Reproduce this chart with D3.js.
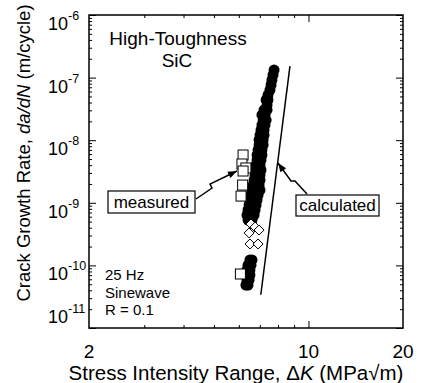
<!DOCTYPE html>
<html>
<meta charset="utf-8">
<head>
  <title>Crack growth rate vs stress intensity range</title>
</head>

<style>
body { margin: 0; background: #fff; }
text {
  font-family: "Liberation Sans", Arial, Helvetica, sans-serif;
  fill: #000;
}
.tick line { stroke: #000; stroke-width: 1; }
</style>

<body>
  <svg width="422" height="383"></svg>

  <script src="https://cdnjs.cloudflare.com/ajax/libs/d3/7.8.5/d3.min.js"></script>
  <script>
// [deltaK (MPa sqrt m), da/dN (m/cycle)]
var filledPoints = [
  [7.77,1.32e-7],[7.71,1.10e-7],[7.65,9.16e-8],[7.60,7.62e-8],[7.54,6.34e-8],[7.43,5.27e-8],
  [7.43,4.39e-8],[7.33,4.39e-8],[7.38,3.65e-8],
  [7.38,3.04e-8],[7.22,3.04e-8],
  [7.27,2.53e-8],[7.11,2.53e-8],
  [7.33,2.10e-8],[7.17,2.10e-8],
  [7.27,1.75e-8],[7.11,1.75e-8],
  [7.22,1.46e-8],[7.06,1.46e-8],
  [7.22,1.21e-8],[7.01,1.21e-8],
  [7.17,1.01e-8],[6.96,1.01e-8],
  [7.17,8.38e-9],[6.96,8.38e-9],
  [7.11,6.97e-9],[6.91,6.97e-9],
  [7.11,5.80e-9],[6.86,5.80e-9],
  [7.06,4.83e-9],[6.86,4.83e-9],
  [7.01,4.02e-9],[6.81,4.02e-9],
  [7.06,3.34e-9],[6.81,3.34e-9],
  [7.01,2.78e-9],[6.76,2.78e-9],
  [7.01,2.31e-9],[6.71,2.31e-9],
  [6.96,1.92e-9],[6.66,1.92e-9],
  [7.01,1.60e-9],[6.81,1.60e-9],[6.61,1.60e-9],
  [6.91,1.33e-9],[6.76,1.33e-9],[6.56,1.33e-9],
  [6.86,1.11e-9],[6.66,1.11e-9],[6.51,1.11e-9],
  [6.81,9.22e-10],[6.66,9.22e-10],[6.47,9.22e-10],
  [6.76,7.67e-10],[6.56,7.67e-10],[6.42,7.67e-10],
  [6.71,6.38e-10],[6.56,6.38e-10],[6.37,6.38e-10],
  [6.61,5.31e-10],[6.42,5.31e-10],
  [6.61,1.22e-10],[6.51,1.22e-10],
  [6.56,1.01e-10],[6.42,1.01e-10],
  [6.51,8.45e-11],[6.37,8.45e-11],
  [6.51,7.03e-11],[6.42,7.03e-11],
  [6.47,5.85e-11],[6.37,5.85e-11],
  [6.42,4.86e-11],[6.32,4.86e-11]
];

var diamondPoints = [
  [6.56,4.58e-10],[6.76,4.10e-10],[6.96,3.67e-10],[6.47,3.30e-10],
  [6.51,2.20e-10],[6.91,2.20e-10]
];

var squarePoints = [
  [6.19,5.80e-9],[6.14,4.17e-9],[6.32,3.60e-9],[6.19,3.22e-9],
  [6.17,1.92e-9],[6.10,1.28e-9],[6.07,7.29e-11]
];

var calculatedLine = [[7.05,3.4e-11],[8.73,1.53e-7]];

var xTickLabels = [2, 10, 20];
var yTickExponents = [-6, -7, -8, -9, -10, -11];

var svg = d3.select('svg');
var plotL = 89, plotR = 403, plotT = 15, plotB = 328;

var x = d3.scaleLog().domain([2, 20]).range([plotL, plotR]);
var y = d3.scaleLog().domain([1e-11, 1e-6]).range([plotB, plotT]);

// minor / major tick values
var xMinor = d3.range(3, 10);
var xMajor = [10];
var yMajor = yTickExponents.map(function(e) { return Math.pow(10, e); });
var yMinor = [];
d3.range(-11, -6).forEach(function(e) {
  d3.range(2, 10).forEach(function(m) { yMinor.push(m * Math.pow(10, e)); });
});

function ticks(axis, vals, size, tr) {
  var g = svg.append('g')
    .attr('transform', tr)
    .call(axis.tickValues(vals).tickSize(size).tickFormat(''));
  g.select('.domain').remove();
}
ticks(d3.axisBottom(x), xMinor, -3, 'translate(0,' + plotB + ')');
ticks(d3.axisBottom(x), xMajor, -7, 'translate(0,' + plotB + ')');
ticks(d3.axisTop(x), xMinor, -3, 'translate(0,' + plotT + ')');
ticks(d3.axisTop(x), xMajor, -7, 'translate(0,' + plotT + ')');
ticks(d3.axisLeft(y), yMinor, -3, 'translate(' + plotL + ',0)');
ticks(d3.axisLeft(y), yMajor, -7, 'translate(' + plotL + ',0)');
ticks(d3.axisRight(y), yMinor, -3, 'translate(' + plotR + ',0)');
ticks(d3.axisRight(y), yMajor, -7, 'translate(' + plotR + ',0)');

svg.append('rect')
  .attr('x', plotL).attr('y', plotT)
  .attr('width', plotR - plotL).attr('height', plotB - plotT)
  .attr('fill', 'none').attr('stroke', '#000').attr('stroke-width', 1.5);

// x tick labels
svg.selectAll('.xlab')
  .data(xTickLabels)
  .enter().append('text')
  .attr('x', function(d) { return x(d); })
  .attr('y', 358)
  .attr('text-anchor', 'middle')
  .style('font-size', '19px')
  .text(function(d) { return d; });

// y tick labels: 10 with superscript exponent (bottom one raised clear of the x labels)
var ylab = svg.selectAll('.ylab')
  .data(yTickExponents)
  .enter().append('text')
  .attr('x', 48)
  .attr('y', function(d) { return y(Math.pow(10, d)) + (d === -11 ? -5 : 15); })
  .style('font-size', '18px');
ylab.append('tspan').text('10');
ylab.append('tspan')
  .attr('dy', -10)
  .style('font-size', '12.5px')
  .text(function(d) { return '-' + Math.abs(d); });

// axis titles
var xt = svg.append('text')
  .attr('x', 236).attr('y', 380)
  .attr('text-anchor', 'middle')
  .style('font-size', '20.5px');
xt.append('tspan').text('Stress Intensity Range, \u0394');
xt.append('tspan').style('font-style', 'italic').text('K');
xt.append('tspan').text(' (MPa\u221Am)');

var yt = svg.append('text')
  .attr('transform', 'translate(30,153) rotate(-90)')
  .attr('text-anchor', 'middle')
  .style('font-size', '18.5px');
yt.append('tspan').text('Crack Growth Rate, ');
yt.append('tspan').style('font-style', 'italic').text('da/dN');
yt.append('tspan').text(' (m/cycle)');

// data
svg.append('g').selectAll('circle')
  .data(filledPoints)
  .enter().append('circle')
  .attr('cx', function(d) { return x(d[0]); })
  .attr('cy', function(d) { return y(d[1]); })
  .attr('r', 5.5)
  .attr('fill', '#000');

svg.append('path')
  .datum(calculatedLine)
  .attr('d', d3.line().x(function(d) { return x(d[0]); }).y(function(d) { return y(d[1]); }))
  .attr('fill', 'none').attr('stroke', '#000').attr('stroke-width', 1.5);

svg.append('g').selectAll('path')
  .data(diamondPoints)
  .enter().append('path')
  .attr('transform', function(d) { return 'translate(' + x(d[0]) + ',' + y(d[1]) + ')'; })
  .attr('d', 'M0,-5L5,0L0,5L-5,0Z')
  .attr('fill', '#fff').attr('stroke', '#000').attr('stroke-width', 1);

svg.append('g').selectAll('rect')
  .data(squarePoints)
  .enter().append('rect')
  .attr('x', function(d) { return x(d[0]) - 5; })
  .attr('y', function(d) { return y(d[1]) - 5; })
  .attr('width', 10).attr('height', 10)
  .attr('fill', '#fff').attr('stroke', '#000').attr('stroke-width', 1);

// text annotations
svg.append('text').attr('x', 178).attr('y', 45).attr('text-anchor', 'middle')
  .style('font-size', '19px').text('High-Toughness');
svg.append('text').attr('x', 177).attr('y', 67).attr('text-anchor', 'middle')
  .style('font-size', '19px').text('SiC');

['25 Hz', 'Sinewave', 'R = 0.1'].forEach(function(s, i) {
  svg.append('text').attr('x', 105).attr('y', 280 + i * 17.5)
    .style('font-size', '15px').text(s);
});

function label(bx, by, bw, bh, s) {
  svg.append('rect').attr('x', bx).attr('y', by).attr('width', bw).attr('height', bh)
    .attr('fill', '#fff').attr('stroke', '#000').attr('stroke-width', 1.2);
  svg.append('text').attr('x', bx + bw / 2).attr('y', by + bh - 5.5)
    .attr('text-anchor', 'middle').style('font-size', '17px').text(s);
}

function arrow(pts) {
  svg.append('path').attr('d', d3.line()(pts))
    .attr('fill', 'none').attr('stroke', '#000').attr('stroke-width', 1.5);
  var a = pts[pts.length - 2], b = pts[pts.length - 1];
  var ang = Math.atan2(b[1] - a[1], b[0] - a[0]);
  var L = 9, W = 3.5;
  var bx = b[0] - L * Math.cos(ang), by = b[1] - L * Math.sin(ang);
  var head = [
    b,
    [bx + W * Math.sin(ang), by - W * Math.cos(ang)],
    [bx - W * Math.sin(ang), by + W * Math.cos(ang)]
  ];
  svg.append('path').attr('d', d3.line()(head) + 'Z').attr('fill', '#000');
}

label(108, 191, 87, 22, 'measured');
arrow([[196, 199], [212, 188], [210, 184], [237, 171]]);

label(296, 195, 83, 21, 'calculated');
arrow([[307, 194], [295, 181], [291, 181], [278, 163]]);
  </script>
</body>
</html>
